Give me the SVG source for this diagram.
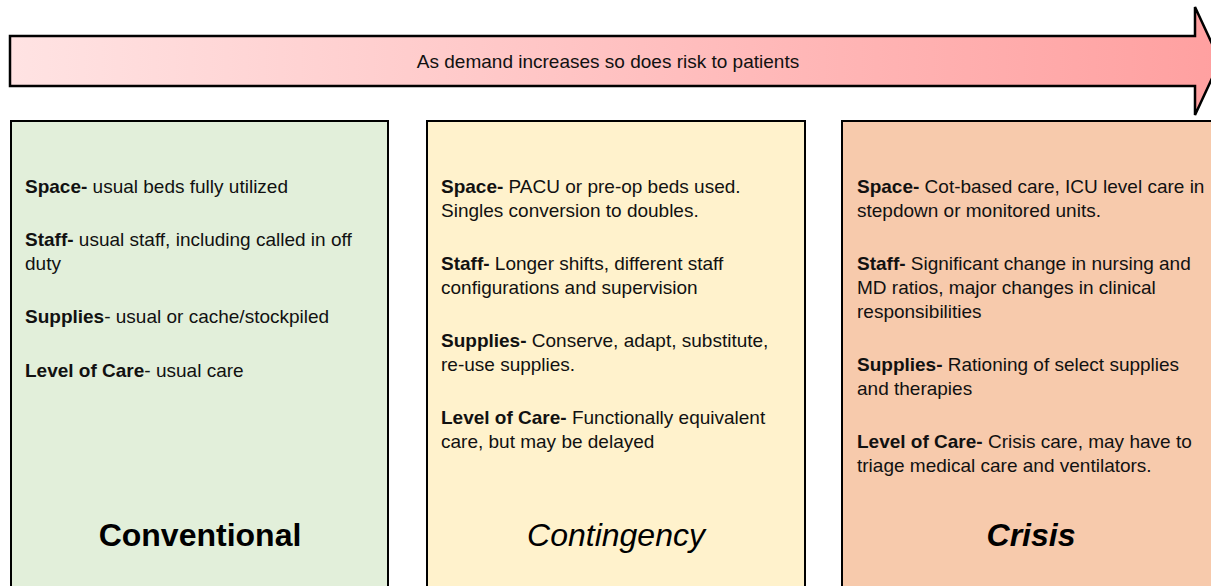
<svg xmlns="http://www.w3.org/2000/svg" width="1211" height="586" viewBox="0 0 1211 586">
<defs>
<linearGradient id="arrowGrad" x1="0" y1="0" x2="1" y2="0">
<stop offset="0" stop-color="#FFE3E3"/>
<stop offset="1" stop-color="#FFA0A0"/>
</linearGradient>
<style>
.box{stroke:#000;stroke-width:2}
.body{font-family:"Liberation Sans",Arial,sans-serif;font-size:19px;fill:#111}
.b{font-weight:bold}
.title{font-family:"Liberation Sans",Arial,sans-serif;font-size:32px;fill:#000;text-anchor:middle}
</style>
</defs>
<rect width="1211" height="586" fill="#fff"/>
<g id="arrow">
<path d="M10,36 L1195,36 L1195,7 L1220,61 L1195,115 L1195,86 L10,86 Z" fill="url(#arrowGrad)" stroke="#000" stroke-width="2.5" stroke-linejoin="miter"/>
<text x="608" y="68" class="body" text-anchor="middle">As demand increases so does risk to patients</text>
</g>
<g id="conventional">
<rect class="box" x="11" y="121" width="377" height="480" fill="#E2EFDA"/>
<text class="body" x="25" y="193"><tspan class="b">Space-</tspan> usual beds fully utilized</text>
<text class="body" x="25" y="246"><tspan class="b">Staff-</tspan> usual staff, including called in off</text>
<text class="body" x="25" y="270">duty</text>
<text class="body" x="25" y="323"><tspan class="b">Supplies</tspan>- usual or cache/stockpiled</text>
<text class="body" x="25" y="377"><tspan class="b">Level of Care</tspan>- usual care</text>
<text class="title" x="200" y="546" font-weight="bold">Conventional</text>
</g>
<g id="contingency">
<rect class="box" x="427" y="121" width="378" height="480" fill="#FFF2CC"/>
<text class="body" x="441" y="193"><tspan class="b">Space-</tspan> PACU or pre-op beds used.</text>
<text class="body" x="441" y="217">Singles conversion to doubles.</text>
<text class="body" x="441" y="270"><tspan class="b">Staff-</tspan> Longer shifts, different staff</text>
<text class="body" x="441" y="294">configurations and supervision</text>
<text class="body" x="441" y="347"><tspan class="b">Supplies-</tspan> Conserve, adapt, substitute,</text>
<text class="body" x="441" y="371">re-use supplies.</text>
<text class="body" x="441" y="424"><tspan class="b">Level of Care-</tspan> Functionally equivalent</text>
<text class="body" x="441" y="448">care, but may be delayed</text>
<text class="title" x="616" y="546" font-style="italic">Contingency</text>
</g>
<g id="crisis">
<rect class="box" x="842" y="121" width="380" height="480" fill="#F7CAAC"/>
<text class="body" x="857" y="193"><tspan class="b">Space-</tspan> Cot-based care, ICU level care in</text>
<text class="body" x="857" y="217">stepdown or monitored units.</text>
<text class="body" x="857" y="270"><tspan class="b">Staff-</tspan> Significant change in nursing and</text>
<text class="body" x="857" y="294">MD ratios, major changes in clinical</text>
<text class="body" x="857" y="318">responsibilities</text>
<text class="body" x="857" y="371"><tspan class="b">Supplies-</tspan> Rationing of select supplies</text>
<text class="body" x="857" y="395">and therapies</text>
<text class="body" x="857" y="448"><tspan class="b">Level of Care-</tspan> Crisis care, may have to</text>
<text class="body" x="857" y="472">triage medical care and ventilators.</text>
<text class="title" x="1031" y="546" font-weight="bold" font-style="italic">Crisis</text>
</g>
<g id="connectors"/>
</svg>
